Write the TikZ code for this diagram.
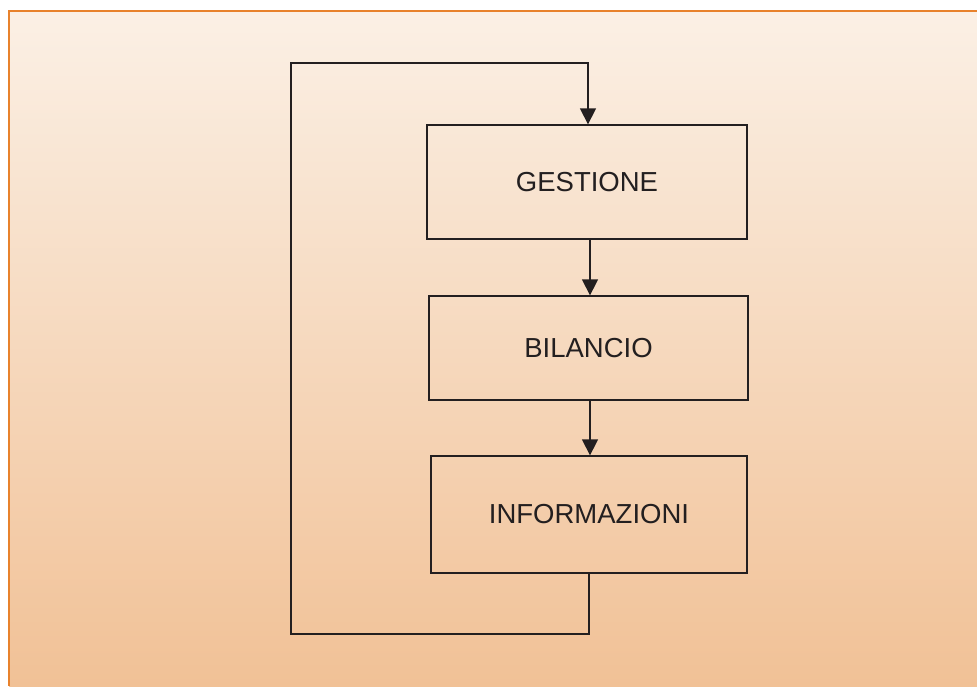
\documentclass[tikz,border=0pt]{standalone}
\usepackage{fontspec}
\setmainfont{Liberation Sans}
\usetikzlibrary{arrows.meta}
\definecolor{linec}{HTML}{231F20}
\definecolor{bordc}{HTML}{E8822C}
\definecolor{topc}{HTML}{FBF0E5}
\definecolor{botc}{HTML}{F1C196}
\begin{document}
\begin{tikzpicture}[x=1pt,y=-1pt,
  box/.style={draw=linec,line width=1.3pt,minimum width=#1,inner sep=0pt,font=\fontsize{27.5}{31}\selectfont,text=linec},
  conn/.style={draw=linec,line width=1.3pt},
  arr/.style={conn,-{Triangle[width=16pt,length=16pt]}}]
\useasboundingbox (0,0) rectangle (977,686);
\shade[top color=topc,bottom color=botc] (9,11) rectangle (977,686);
\draw[bordc,line width=2.5pt] (9,686) -- (9,11) -- (977,11);
\node[box=320pt,minimum height=114pt] (ges) at (587,182) {GESTIONE};
\node[box=319pt,minimum height=104pt] (bil) at (588.5,348) {BILANCIO};
\node[box=316pt,minimum height=117pt] (inf) at (589,514.5) {INFORMAZIONI};
\coordinate (c1) at (589,634);
\coordinate (c2) at (291,634);
\coordinate (c3) at (291,63);
\coordinate (c4) at (588,63);
\draw[arr] (ges.south -| 590,0) -- (bil.north -| 590,0);
\draw[arr] (bil.south -| 590,0) -- (inf.north -| 590,0);
\draw[arr] (inf.south -| c1) -- (c1) -- (c2) -- (c3) -- (c4) -- (ges.north -| c4);
\end{tikzpicture}
\end{document}
